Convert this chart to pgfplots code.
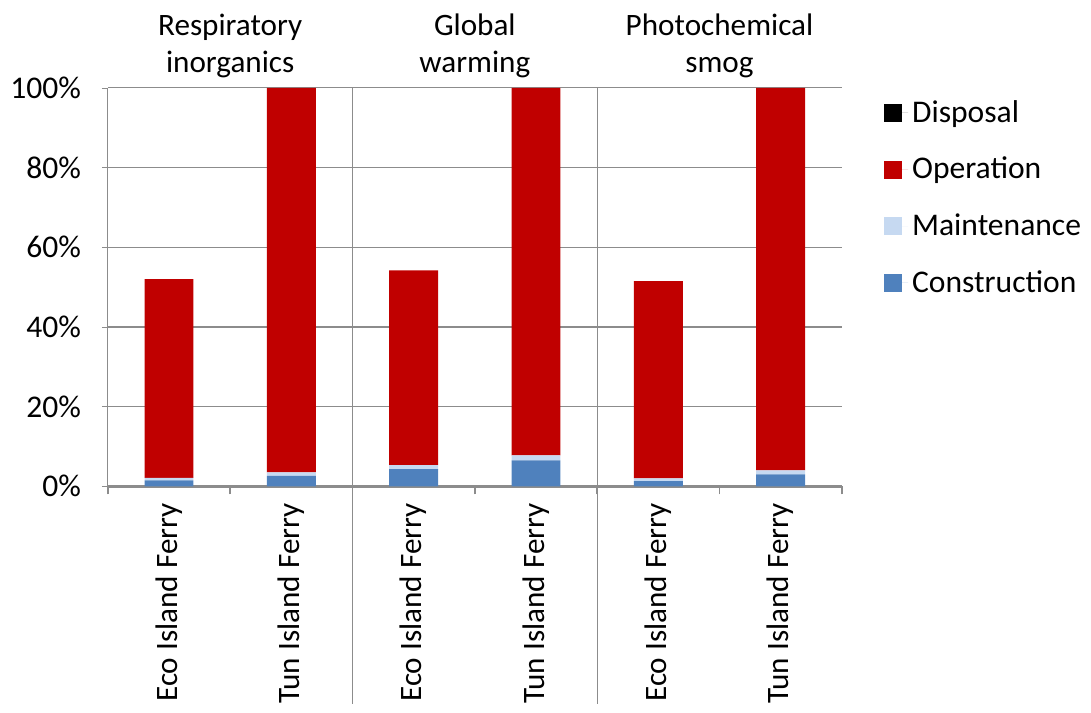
\documentclass[border=0pt]{standalone}
\usepackage{pgfplots}
\pgfplotsset{compat=1.18}
\usepackage{fontspec}
\setmainfont{Carlito}
\definecolor{oper}{HTML}{C00000}
\definecolor{maint}{HTML}{C6D9F1}
\definecolor{constr}{HTML}{4F81BD}
\definecolor{gridg}{HTML}{8C8C8C}
\begin{document}
\begin{tikzpicture}
\path (-54pt,-113pt) rectangle (491.5pt,243.5pt);
\begin{axis}[
  scale only axis,
  width=367.5pt, height=199.5pt,
  at={(0,0)}, anchor=south west,
  ybar stacked, bar width=0.4,
  xmin=-0.5, xmax=5.5, ymin=0, ymax=100,
  xtick={0,1,2,3,4,5},
  xticklabels={Eco Island Ferry,Tun Island Ferry,Eco Island Ferry,Tun Island Ferry,Eco Island Ferry,Tun Island Ferry},
  xticklabel style={rotate=90, anchor=east, font=\fontsize{15.6}{18}\selectfont, xshift=-2pt},
  major x tick style={draw=none},
  minor xtick={-0.5,0.5,1.5,2.5,3.5,4.5,5.5},
  minor x tick style={draw=gridg, line width=0.8pt},
  minor tick length=4pt,
  tick align=outside,
  ytick={0,20,40,60,80,100},
  yticklabels={0\%,20\%,40\%,60\%,80\%,100\%},
  yticklabel style={font=\fontsize{15.8}{18}\selectfont, xshift=-7pt},
  major y tick style={draw=gridg},
  major tick length=3pt,
  ymajorgrids, grid style={gridg, line width=0.6pt},
  axis x line*=bottom, axis y line*=left,
  x axis line style={gridg, line width=1.5pt, -},
  y axis line style={gridg, line width=0.6pt, -},
  clip=false,
  reverse legend,
  legend style={at={(1.049,0.99)}, anchor=north west, draw=none, fill=none,
    font=\fontsize{15.8}{18}\selectfont, row sep=12pt},
  legend cell align=left,
  legend image code/.code={\fill[#1] (0pt,-4.5pt) rectangle (9pt,4.5pt); \path (0pt,0pt) -- (12pt,0pt);},
]
\addplot[fill=constr, draw=none] coordinates {(0,1.5) (1,2.6) (2,4.3) (3,6.5) (4,1.3) (5,3.0)};
\addplot[fill=maint, draw=none] coordinates {(0,0.6) (1,0.9) (2,1.0) (3,1.3) (4,0.7) (5,1.0)};
\addplot[fill=oper, draw=none] coordinates {(0,49.9) (1,96.5) (2,48.9) (3,92.2) (4,49.5) (5,96.0)};
\addplot[fill=black, draw=none] coordinates {(0,0) (1,0) (2,0) (3,0) (4,0) (5,0)};
\legend{Construction,Maintenance,Operation,Disposal}
\draw[gridg, line width=0.6pt] (axis cs:1.5,100) -- ([yshift=-109pt]axis cs:1.5,0);
\draw[gridg, line width=0.6pt] (axis cs:3.5,100) -- ([yshift=-109pt]axis cs:3.5,0);
\node[align=center, anchor=south, font=\fontsize{15.6}{18.5}\selectfont, inner sep=0pt] at ([yshift=5pt]axis cs:0.5,100) {Respiratory\\inorganics};
\node[align=center, anchor=south, font=\fontsize{15.6}{18.5}\selectfont, inner sep=0pt] at ([yshift=5pt]axis cs:2.5,100) {Global\\warming};
\node[align=center, anchor=south, font=\fontsize{15.6}{18.5}\selectfont, inner sep=0pt] at ([yshift=5pt]axis cs:4.5,100) {Photochemical\\smog};
\end{axis}
\end{tikzpicture}
\end{document}
